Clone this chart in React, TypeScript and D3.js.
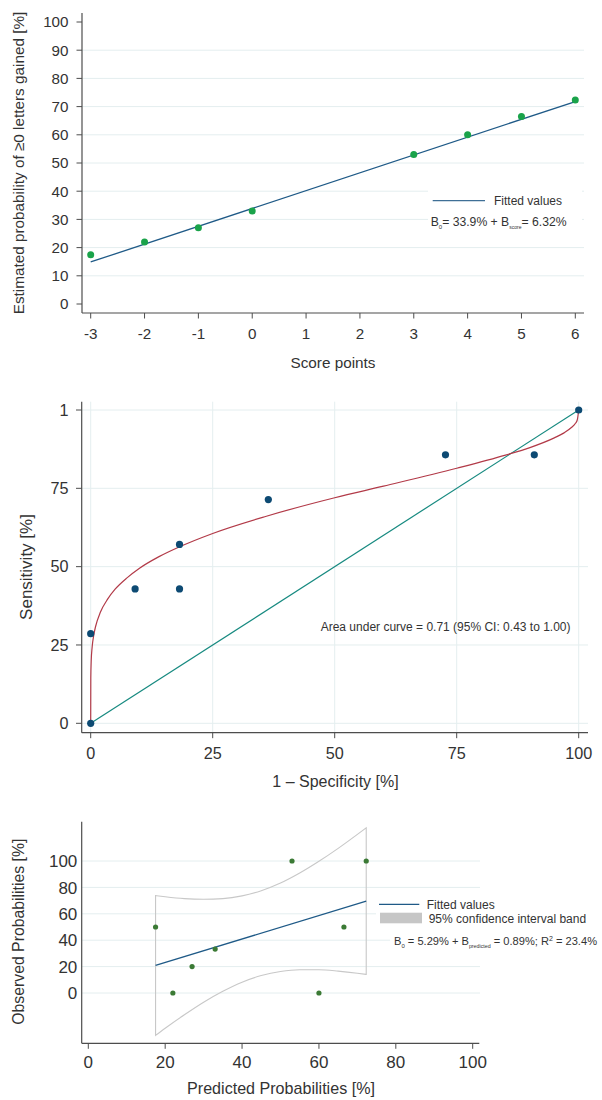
import React from 'react';
import * as d3 from 'd3';

// ---------- Panel 1: score vs estimated probability ----------
const scoreTicks = [-3, -2, -1, 0, 1, 2, 3, 4, 5, 6];
const probTicks = [0, 10, 20, 30, 40, 50, 60, 70, 80, 90, 100];
const probGrid = [10, 20, 30, 40, 50, 60, 70, 80, 90];
const scorePoints = [-3, -2, -1, 0, 3, 4, 5, 6];
const estProb = [17.5, 22, 27, 33, 53, 60, 66.5, 72.3];
const fitScoreX = [-3, 6];
const fitScoreY = [14.9, 71.8];

// ---------- Panel 2: ROC ----------
const rocTicks = [0, 25, 50, 75, 100];
const rocYTickLabels = ['0', '25', '50', '75', '1'];
const rocFpr = [0, 0, 9.1, 18.2, 18.2, 36.4, 72.7, 90.9, 100];
const rocSens = [0, 28.6, 42.9, 42.9, 57.1, 71.4, 85.7, 85.7, 100];
const rocCurveFpr = [0, 0.02, 0.1, 0.3, 0.6, 1, 2, 3.5, 5, 7.5, 10, 14, 18, 25, 36, 50, 60, 75, 85, 90, 95, 97, 98.5, 99.3, 99.7, 100];
const rocCurveSens = [0, 14.4, 19.7, 24.4, 27.9, 30.9, 35.5, 39.7, 42.8, 46.5, 49.5, 53.2, 56.2, 60.6, 66.1, 72.0, 75.7, 81.4, 85.6, 88.0, 91.1, 92.7, 94.4, 95.7, 96.8, 100];
const refLine = [0, 100];

// ---------- Panel 3: calibration ----------
const calibTicks = [0, 20, 40, 60, 80, 100];
const predicted = [17.5, 22, 27, 33, 53, 60, 66.5, 72.3];
const observed = [50, 0, 20, 33.3, 100, 0, 50, 100];
const calibFitX = [17.5, 72.3];
const calibFitY = [20.9, 69.6];
const bandX = [17.5, 20, 25, 30, 35, 40, 45, 50, 55, 60, 65, 70, 72.3];
const bandUpper = [73.8, 72.9, 71.5, 71.0, 71.5, 73.6, 77.5, 83.3, 90.9, 99.8, 109.6, 120.2, 125.2];
const bandLower = [-32.1, -26.7, -16.5, -7.0, 1.3, 8.2, 13.2, 16.3, 17.6, 17.6, 16.6, 15.0, 14.1];

const FONT = 'Liberation Sans, Arial, Helvetica, sans-serif';
const TXT = '#333333';
const AXIS = '#4d4d4d';
const GRID = '#e4eeef';

export default function App() {
  // Panel 1 scales
  const x1 = d3.scaleLinear().domain([-3, 6]).range([90.7, 575.3]);
  const y1 = d3.scaleLinear().domain([0, 100]).range([304, 22]);
  // Panel 2 scales
  const x2 = d3.scaleLinear().domain([0, 100]).range([90.7, 578.7]);
  const y2 = d3.scaleLinear().domain([0, 100]).range([723.3, 410]);
  // Panel 3 scales
  const x3 = d3.scaleLinear().domain([0, 100]).range([88.3, 472.7]);
  const y3 = d3.scaleLinear().domain([0, 100]).range([993, 861]);

  const line1 = d3.line<number>().x((_, i) => x1(fitScoreX[i])).y((d) => y1(d))(fitScoreY) || '';
  const rocPath = d3
    .line<number>()
    .x((_, i) => x2(rocCurveFpr[i]))
    .y((d) => y2(d))
    .curve(d3.curveMonotoneX)(rocCurveSens) || '';
  const diagPath = d3.line<number>().x((d) => x2(d)).y((d) => y2(d))(refLine) || '';
  const fit3 = d3.line<number>().x((_, i) => x3(calibFitX[i])).y((d) => y3(d))(calibFitY) || '';
  const bandPath = d3
    .area<number>()
    .x((d) => x3(d))
    .y0((_, i) => y3(bandLower[i]))
    .y1((_, i) => y3(bandUpper[i]))
    .curve(d3.curveMonotoneX)(bandX) || '';

  return (
    <svg
      width={602}
      height={1100}
      style={{ position: 'absolute', left: 0, top: 0, background: '#fff' }}
      fontFamily={FONT}
    >
      <rect x={0} y={0} width={602} height={1100} fill="#fff" />

      {/* ================= Panel 1 ================= */}
      <g>
        {probGrid.map((t) => (
          <line key={'g1' + t} x1={82} x2={584} y1={y1(t)} y2={y1(t)} stroke={GRID} strokeWidth={1} />
        ))}
        <path d={line1} fill="none" stroke="#1f5a87" strokeWidth={1.3} />
        {scorePoints.map((s, i) => (
          <circle key={'p1' + i} cx={x1(s)} cy={y1(estProb[i])} r={3.5} fill="#1aa34a" />
        ))}
        {/* legend */}
        <rect x={428} y={189} width={154} height={40} fill="#fff" />
        <line x1={432.7} x2={485} y1={200.7} y2={200.7} stroke="#3f6f96" strokeWidth={1.2} />
        <text x={494} y={204.8} fontSize={12} fill={TXT}>Fitted values</text>
        <text x={430.7} y={225.5} fontSize={12.2} fill={TXT}>
          B<tspan fontSize={6} dy={3}>0</tspan>
          <tspan dy={-3}>= 33.9% + B</tspan>
          <tspan fontSize={5} dy={3}>score</tspan>
          <tspan dy={-3}>= 6.32%</tspan>
        </text>
        {/* axes */}
        <line x1={82} x2={82} y1={13} y2={313} stroke={AXIS} strokeWidth={1.2} />
        <line x1={82} x2={584} y1={313} y2={313} stroke={AXIS} strokeWidth={1.2} />
        {probTicks.map((t) => (
          <g key={'yt1' + t}>
            <line x1={76.5} x2={82} y1={y1(t)} y2={y1(t)} stroke={AXIS} strokeWidth={1} />
            <text x={68.5} y={y1(t)} dy="0.36em" textAnchor="end" fontSize={15.2} fill={TXT}>
              {t}
            </text>
          </g>
        ))}
        {scoreTicks.map((t) => (
          <g key={'xt1' + t}>
            <line x1={x1(t)} x2={x1(t)} y1={313} y2={318.5} stroke={AXIS} strokeWidth={1} />
            <text x={x1(t)} y={339} textAnchor="middle" fontSize={15.2} fill={TXT}>
              {t}
            </text>
          </g>
        ))}
        <text x={333} y={367.5} textAnchor="middle" fontSize={15.3} fill={TXT}>Score points</text>
        <text
          transform="translate(24,163) rotate(-90)"
          textAnchor="middle"
          fontSize={15.3}
          fill={TXT}
        >
          Estimated probability of ≥0 letters gained [%]
        </text>
      </g>

      {/* ================= Panel 2 ================= */}
      <g>
        {rocTicks.map((t) => (
          <line key={'gh2' + t} x1={82} x2={588} y1={y2(t)} y2={y2(t)} stroke={GRID} strokeWidth={1} />
        ))}
        {rocTicks.map((t) => (
          <line key={'gv2' + t} x1={x2(t)} x2={x2(t)} y1={401.7} y2={732.7} stroke={GRID} strokeWidth={1} />
        ))}
        <path d={diagPath} fill="none" stroke="#178a80" strokeWidth={1.2} />
        <path d={rocPath} fill="none" stroke="#b23a48" strokeWidth={1.2} />
        {rocFpr.map((f, i) => (
          <circle key={'p2' + i} cx={x2(f)} cy={y2(rocSens[i])} r={3.6} fill="#0d4a73" />
        ))}
        <text x={320.7} y={630.8} fontSize={12} fill={TXT}>
          Area under curve = 0.71 (95% CI: 0.43 to 1.00)
        </text>
        <line x1={81.7} x2={81.7} y1={401.7} y2={732.7} stroke={AXIS} strokeWidth={1.2} />
        <line x1={81.7} x2={588} y1={732.7} y2={732.7} stroke={AXIS} strokeWidth={1.2} />
        {rocTicks.map((t, i) => (
          <g key={'yt2' + t}>
            <line x1={76} x2={81.7} y1={y2(t)} y2={y2(t)} stroke={AXIS} strokeWidth={1} />
            <text x={68.5} y={y2(t)} dy="0.36em" textAnchor="end" fontSize={16.2} fill={TXT}>
              {rocYTickLabels[i]}
            </text>
          </g>
        ))}
        {rocTicks.map((t) => (
          <g key={'xt2' + t}>
            <line x1={x2(t)} x2={x2(t)} y1={732.7} y2={738.2} stroke={AXIS} strokeWidth={1} />
            <text x={x2(t)} y={759} textAnchor="middle" fontSize={16.2} fill={TXT}>
              {t}
            </text>
          </g>
        ))}
        <text x={335.5} y={787} textAnchor="middle" fontSize={16} fill={TXT}>
          1 – Specificity [%]
        </text>
        <text transform="translate(32,567) rotate(-90)" textAnchor="middle" fontSize={17} fill={TXT}>
          Sensitivity [%]
        </text>
      </g>

      {/* ================= Panel 3 ================= */}
      <g>
        {calibTicks.map((t) => (
          <line key={'g3' + t} x1={82} x2={480} y1={y3(t)} y2={y3(t)} stroke={GRID} strokeWidth={1} />
        ))}
        <path d={bandPath} fill="none" stroke="#c8c8c8" strokeWidth={1.1} />
        <path d={fit3} fill="none" stroke="#1f5a87" strokeWidth={1.3} />
        {predicted.map((p, i) => (
          <circle key={'p3' + i} cx={x3(p)} cy={y3(observed[i])} r={2.6} fill="#3b7a35" />
        ))}
        {/* legend */}
        <rect x={376} y={896} width={226} height={32} fill="#fff" />
        <rect x={390} y={932} width={212} height={17} fill="#fff" />
        <line x1={379} x2={419.3} y1={904.3} y2={904.3} stroke="#1f5a87" strokeWidth={1.3} />
        <text x={426.7} y={908.5} fontSize={12} fill={TXT}>Fitted values</text>
        <rect x={380} y={912.7} width={42} height={10.6} fill="#c6c6c6" />
        <text x={428.7} y={922.5} fontSize={12} fill={TXT}>95% confidence interval band</text>
        <text x={394} y={944.5} fontSize={11.1} fill={TXT}>
          B<tspan fontSize={6} dy={3}>0</tspan>
          <tspan dy={-3}> = 5.29% + B</tspan>
          <tspan fontSize={5.3} dy={3}>predicted</tspan>
          <tspan dy={-3}> = 0.89%; R</tspan>
          <tspan fontSize={7} dy={-4}>2</tspan>
          <tspan dy={4}> = 23.4%</tspan>
        </text>
        {/* axes */}
        <line x1={81.7} x2={81.7} y1={821.7} y2={1043.3} stroke={AXIS} strokeWidth={1.2} />
        <line x1={81.7} x2={479.3} y1={1043.3} y2={1043.3} stroke={AXIS} strokeWidth={1.2} />
        {calibTicks.map((t) => (
          <text key={'yt3' + t} x={77.3} y={y3(t)} dy="0.36em" textAnchor="end" fontSize={17} fill={TXT}>
            {t}
          </text>
        ))}
        {calibTicks.map((t) => (
          <g key={'xt3' + t}>
            <line x1={x3(t)} x2={x3(t)} y1={1043.3} y2={1048.8} stroke={AXIS} strokeWidth={1} />
            <text x={x3(t)} y={1068} textAnchor="middle" fontSize={17} fill={TXT}>
              {t}
            </text>
          </g>
        ))}
        <text x={281} y={1094} textAnchor="middle" fontSize={16.1} fill={TXT}>
          Predicted Probabilities [%]
        </text>
        <text transform="translate(24,931.7) rotate(-90)" textAnchor="middle" fontSize={15.8} fill={TXT}>
          Observed Probabilities [%]
        </text>
      </g>
    </svg>
  );
}
